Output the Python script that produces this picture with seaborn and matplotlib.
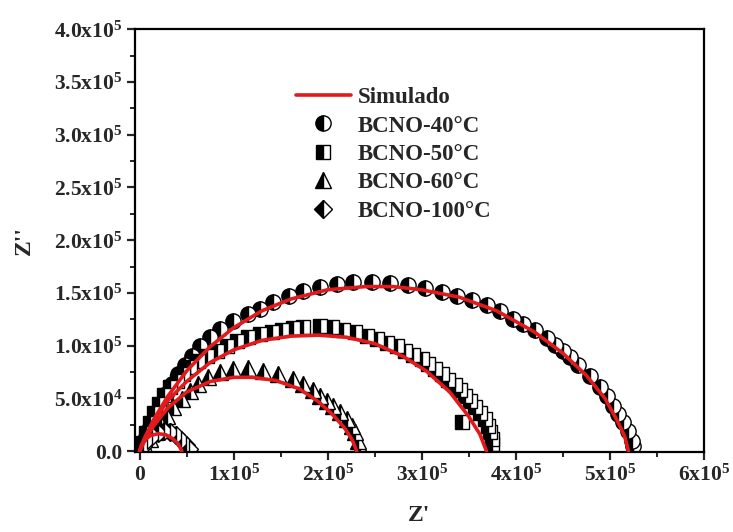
import numpy as np
import pandas as pd
import matplotlib
matplotlib.use('Agg')
import matplotlib.pyplot as plt
import seaborn as sns
from matplotlib.lines import Line2D

# impedance data, Z' and Z'' in units of 1e5
x40=[5.245,5.234,5.191,5.138,5.085,5.032,4.968,4.894,4.787,4.660,4.574,4.500,4.415,4.330,4.202,4.074,3.968,3.830,3.691,3.532,
     3.372,3.213,3.032,2.851,2.660,2.468,2.266,2.096,1.915,1.734,1.585,1.415,1.277,1.149,0.989,0.851,0.745,0.638,0.553,0.479,
     0.404,0.340,0.277,0.213,0.160,0.106,0.064,0.032]
y40=[0.047,0.095,0.190,0.275,0.351,0.427,0.521,0.607,0.711,0.815,0.891,0.948,1.005,1.071,1.147,1.204,1.251,1.327,1.384,1.431,
     1.469,1.507,1.545,1.573,1.592,1.602,1.602,1.583,1.554,1.517,1.469,1.412,1.346,1.299,1.232,1.156,1.081,0.995,0.900,0.815,
     0.730,0.635,0.540,0.436,0.332,0.227,0.133,0.057]

x50=[3.745,3.745,3.723,3.702,3.670,3.617,3.564,3.511,3.457,3.404,3.351,3.277,3.213,3.138,3.064,3.000,2.904,2.819,2.734,2.628,
     2.521,2.415,2.287,2.160,2.043,1.915,1.734,1.628,1.511,1.404,1.277,1.149,1.032,0.926,0.819,0.713,0.617,0.532,0.457,0.394,
     0.319,0.255,0.202,0.149,0.106,0.064,0.032,3.426]
y50=[0.066,0.114,0.180,0.237,0.303,0.360,0.417,0.474,0.521,0.578,0.626,0.673,0.730,0.777,0.825,0.872,0.910,0.948,0.995,1.024,
     1.062,1.090,1.128,1.147,1.175,1.185,1.175,1.166,1.147,1.128,1.109,1.081,1.043,0.995,0.948,0.900,0.853,0.796,0.730,0.664,
     0.607,0.531,0.445,0.360,0.265,0.171,0.076,0.275]

x60=[2.340,2.319,2.287,2.255,2.202,2.128,2.053,1.989,1.915,1.840,1.734,1.628,1.468,1.309,1.149,0.989,0.851,0.723,0.617,0.532,
     0.447,0.351,0.287,0.223,0.160,0.106,0.053]
y60=[0.038,0.095,0.180,0.237,0.303,0.370,0.427,0.474,0.521,0.578,0.635,0.682,0.730,0.758,0.787,0.777,0.749,0.701,0.635,0.569,
     0.493,0.417,0.332,0.256,0.180,0.114,0.047]

x100=[0.032,0.074,0.128,0.191,0.255,0.319,0.383,0.436,0.489,0.521]
y100=[0.047,0.104,0.142,0.171,0.190,0.180,0.152,0.104,0.057,0.019]

# simulated (fit) curves
xs40=[0,0.05,0.15,0.3,0.5,0.75,1.0,1.3,1.6,2.0,2.4,2.7,3.0,3.4,3.8,4.2,4.5,4.75,4.95,5.08,5.16,5.20]
ys40=[0,0.12,0.30,0.52,0.76,0.99,1.17,1.33,1.44,1.53,1.56,1.56,1.53,1.46,1.33,1.13,0.93,0.72,0.50,0.29,0.14,0.0]
xs50=[0,0.05,0.15,0.3,0.5,0.75,1.0,1.3,1.6,1.9,2.2,2.5,2.8,3.05,3.3,3.5,3.62,3.69]
ys50=[0,0.10,0.28,0.48,0.66,0.84,0.96,1.05,1.09,1.10,1.08,1.02,0.90,0.76,0.56,0.33,0.16,0.0]
xs60=[0,0.05,0.15,0.3,0.5,0.75,1.0,1.2,1.45,1.7,1.9,2.05,2.18,2.26,2.31]
ys60=[0,0.09,0.24,0.41,0.56,0.66,0.70,0.70,0.67,0.59,0.47,0.35,0.22,0.11,0.0]
xs100=[0,0.02,0.06,0.12,0.2,0.28,0.35,0.41,0.45]
ys100=[0,0.06,0.11,0.15,0.165,0.155,0.12,0.07,0.0]

labels=['BCNO-40°C','BCNO-50°C','BCNO-60°C','BCNO-100°C']
markers=['o','s','^','D']
msizes=[11,9.5,11.5,9]

xticks=[0,1e5,2e5,3e5,4e5,5e5,6e5]
xticklabels=['0','1x10$^5$','2x10$^5$','3x10$^5$','4x10$^5$','5x10$^5$','6x10$^5$']
yticks=[0,0.5e5,1.0e5,1.5e5,2.0e5,2.5e5,3.0e5,3.5e5,4.0e5]
yticklabels=['0.0','5.0x10$^4$','1.0x10$^5$','1.5x10$^5$','2.0x10$^5$','2.5x10$^5$','3.0x10$^5$','3.5x10$^5$','4.0x10$^5$']

sns.set_theme(style='ticks')
plt.rcParams['font.family']=['Liberation Serif','DejaVu Serif']
plt.rcParams['font.weight']='bold'
plt.rcParams['mathtext.fontset']='custom'
plt.rcParams['mathtext.rm']='Liberation Serif:bold'
plt.rcParams['mathtext.it']='Liberation Serif:bold'
plt.rcParams['mathtext.bf']='Liberation Serif:bold'
plt.rcParams['mathtext.default']='rm'

fig=plt.figure(figsize=(7.33,5.32),dpi=100)
ax=fig.add_axes([0.184,0.150,0.776,0.795])

series=[(x40,y40),(x50,y50),(x60,y60),(x100,y100)]
sims=[(xs40,ys40),(xs50,ys50),(xs60,ys60),(xs100,ys100)]
for (xd,yd),lab,m,ms in zip(series,labels,markers,msizes):
    df=pd.DataFrame({'x':np.array(xd)*1e5,'y':np.array(yd)*1e5})
    sns.lineplot(df,x='x',y='y',sort=False,estimator=None,ax=ax,
                 linestyle='',marker=m,markersize=ms,fillstyle='left',
                 color='black',markerfacecolor='black',markerfacecoloralt='white',
                 markeredgecolor='black',markeredgewidth=1.0)
for xd,yd in sims:
    df=pd.DataFrame({'x':np.array(xd)*1e5,'y':np.array(yd)*1e5})
    sns.lineplot(df,x='x',y='y',sort=False,estimator=None,ax=ax,color='#e31a1c',linewidth=2.6,zorder=5)

ax.set_xlim(-5000,6e5)
ax.set_ylim(-1000,4e5)
ax.set_xticks(xticks,xticklabels)
ax.set_yticks(yticks,yticklabels)
ax.set_xticks([0.5e5,1.5e5,2.5e5,3.5e5,4.5e5,5.5e5],minor=True)
ax.set_yticks([0.25e5,0.75e5,1.25e5,1.75e5,2.25e5,2.75e5,3.25e5,3.75e5],minor=True)
ax.tick_params(which='major',direction='out',length=6,width=1.6,labelsize=15.5,pad=3,top=False,right=False)
ax.tick_params(which='minor',direction='out',length=3.5,width=1.4,top=False,right=False)
for s in ax.spines.values():
    s.set_linewidth(1.6)
    s.set_color('black')
ax.set_xlabel("Z'",fontsize=17,fontweight='bold',labelpad=14)
ax.set_ylabel("Z''",fontsize=17,fontweight='bold',labelpad=14)

handles=[Line2D([],[],color='#e31a1c',linewidth=2.6)]
for m,ms in zip(markers,msizes):
    handles.append(Line2D([],[],linestyle='',marker=m,markersize=ms,fillstyle='left',
                          markerfacecolor='black',markerfacecoloralt='white',
                          markeredgecolor='black',markeredgewidth=1.0))
ax.legend(handles,['Simulado']+labels,loc='upper left',bbox_to_anchor=(0.247,0.912),frameon=False,
          prop={'family':'Liberation Serif','weight':'bold','size':16.5},
          handlelength=2.4,handletextpad=0.3,labelspacing=0.32,borderpad=0.4)

plt.savefig('out.png',dpi=100)
